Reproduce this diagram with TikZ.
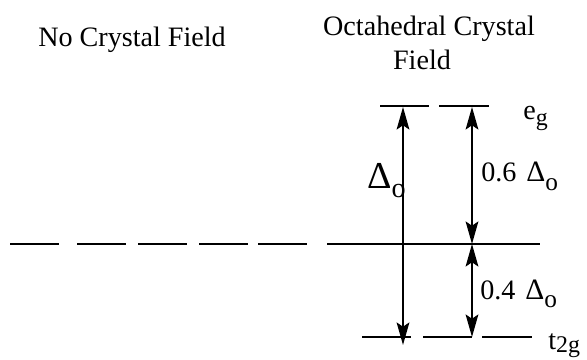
\documentclass[tikz,border=0pt]{standalone}
\usepackage{fontspec}
\setmainfont{Liberation Serif}
\usepackage{tikz}
\usetikzlibrary{arrows.meta}

% lowered text: depth, font size, text
\newcommand{\lowtext}[3]{\raisebox{-#1}{\fontsize{#2}{#2}\selectfont #3}}

\begin{document}
\begin{tikzpicture}[x=0.025cm, y=-0.025cm, >={Stealth[length=16pt,width=9pt,inset=3pt]},
    level/.style={line width=1.6pt},
    gap/.style={<->, line width=1.4pt},
    lbl/.style={inner sep=0pt, anchor=base west, font=\fontsize{20}{24}\selectfont}]
    \useasboundingbox (0,0) rectangle (587,360);

    % Titles
    \node[lbl] (nocf) at (38,47) {No Crystal Field};
    \node[lbl, anchor=base] (octcf) at (429,36) {Octahedral Crystal};
    \node[lbl, anchor=base] (octcfb) at (422,70) {Field};

    % Five degenerate d levels, no field
    \foreach \xa in {10,77,138,199,258}
        \draw[level] (\xa,244) -- ++(49,0);

    % Levels in the octahedral field
    \coordinate (bl) at (327,244);
    \coordinate (br) at (540,244);
    \draw[level] (bl) -- (br);
    \draw[level] (380,106) -- (429,106);
    \draw[level] (439,106) -- (489,106);
    \draw[level] (362,337) -- (411,337);
    \draw[level] (423,337) -- (472,337);
    \draw[level] (482,337) -- (532,337);

    % Arrow ends
    \coordinate (dtop) at (403,107);
    \coordinate (dbot) at (403,345);
    \coordinate (etop) at (472,107);
    \coordinate (emid) at (472,244);
    \coordinate (tbot) at (472,337);

    % Splitting arrows
    \draw[gap] (dbot) -- (dtop);
    \draw[gap] (emid) -- (etop);
    \draw[gap] (tbot) -- (emid);

    % Labels
    \node[lbl] (dlbl) at (367,189) {{\fontsize{27}{27}\selectfont Δ}\lowtext{6.4pt}{20}{o}};
    \node[lbl] (uplbl) at (481,182) {0.6\hspace{7pt}{\fontsize{21}{21}\selectfont Δ}\lowtext{5.7pt}{18}{o}};
    \node[lbl] (lowlbl) at (480,300) {0.4\hspace{7pt}{\fontsize{21}{21}\selectfont Δ}\lowtext{5pt}{18}{o}};
    \node[lbl] (eglbl) at (523,120) {e\lowtext{4pt}{17}{g}};
    \node[lbl] (tglbl) at (548,350) {t\lowtext{2pt}{17}{2g}};
\end{tikzpicture}
\end{document}
